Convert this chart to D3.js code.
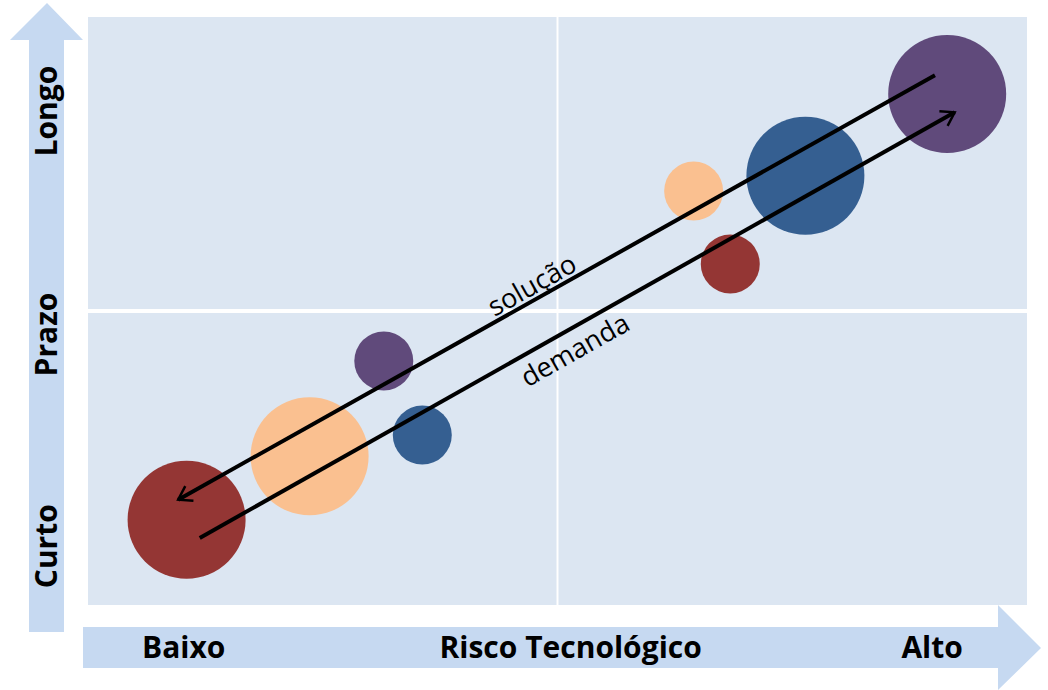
<!DOCTYPE html>
<html><head><meta charset="utf-8">
<script src="https://cdn.jsdelivr.net/npm/d3@7"></script>
<style>body{margin:0;background:#fff}svg{display:block}</style>
</head><body>
<svg id="c" width="1048" height="690"></svg>
<script>
const bubbleX = [10.5, 23.6, 31.5, 35.6, 64.5, 68.4, 76.4, 91.5];
const bubbleY = [14.5, 25.3, 41.5, 28.9, 70.4, 58.0, 73.0, 86.9];
const bubbleSize = [4, 4, 1, 1, 1, 1, 4, 4];
const bubbleGroup = ["vermelho","laranja","roxo","azul","laranja","vermelho","azul","roxo"];
const arrowLabels = ["solução","demanda"];
const arrowFrom = [[90.2, 90.1],[11.9, 11.4]];
const arrowTo = [[9.6, 17.9],[92.3, 83.8]];
const xTickLabels = ["Baixo","Risco Tecnológico","Alto"];
const xTickPos = [10.2, 51.4, 89.9];
const yTickLabels = ["Curto","Prazo","Longo"];
const yTickPos = [10.0, 46.0, 84.0];

const colors = {vermelho:"#943634", laranja:"#fac090", roxo:"#604a7b", azul:"#355f91"};
const svg = d3.select("#c");
const L=88, R=1027, T=17, B=605;
const x = d3.scaleLinear().domain([0,100]).range([L,R]);
const y = d3.scaleLinear().domain([0,100]).range([B,T]);
const r = d3.scaleSqrt().domain([0,4]).range([0,59]);

svg.append("path").attr("fill","#c6d9f1")
  .attr("d","M29,632 L29,40 L10,40 L47,3 L83,40 L64,40 L64,632 Z");
svg.append("path").attr("fill","#c6d9f1")
  .attr("d","M83,627 L998,627 L998,605 L1041,648 L998,690 L998,668 L83,668 Z");

const mx = x(50), my = y(50);
const q = [[L,T,mx-1,my-2],[mx+1,T,R,my-2],[L,my+2,mx-1,B],[mx+1,my+2,R,B]];
svg.selectAll("rect.q").data(q).join("rect").attr("class","q")
  .attr("x",d=>d[0]).attr("y",d=>d[1]).attr("width",d=>d[2]-d[0]).attr("height",d=>d[3]-d[1])
  .attr("fill","#dce6f2");

const data = bubbleX.map((v,i)=>({x:v,y:bubbleY[i],s:bubbleSize[i],g:bubbleGroup[i]}));
svg.selectAll("circle.b").data(data).join("circle").attr("class","b")
  .attr("cx",d=>x(d.x)).attr("cy",d=>y(d.y)).attr("r",d=>r(d.s))
  .attr("fill",d=>colors[d.g]);

svg.append("defs").append("marker").attr("id","ah")
  .attr("viewBox","-12 -8 14 16").attr("refX",0).attr("refY",0)
  .attr("markerWidth",4.5).attr("markerHeight",5.2).attr("markerUnits","strokeWidth")
  .attr("orient","auto")
  .append("path").attr("d","M-10,-6.5 L0,0 L-10,6.5").attr("fill","none")
  .attr("stroke","#000").attr("stroke-width",1.9).attr("stroke-linejoin","miter");

arrowFrom.forEach((f,i)=>{
  svg.append("line").attr("x1",x(f[0])).attr("y1",y(f[1]))
    .attr("x2",x(arrowTo[i][0])).attr("y2",y(arrowTo[i][1]))
    .attr("stroke","#000").attr("stroke-width",4).attr("marker-end","url(#ah)");
});

const labPos = [[533,287],[576,352]];
arrowLabels.forEach((t,i)=>{
  svg.append("text").attr("transform",`translate(${labPos[i][0]},${labPos[i][1]}) rotate(-29.4)`)
    .attr("text-anchor","middle").attr("dominant-baseline","middle")
    .attr("font-family","Open Sans, Noto Sans, sans-serif").attr("font-size",27).attr("fill","#000").text(t);
});

const font = "Liberation Sans Narrow, Open Sans, sans-serif";
svg.selectAll("text.xt").data(xTickLabels).join("text").attr("class","xt")
  .attr("x",(d,i)=>x(xTickPos[i])).attr("y",650).attr("text-anchor","middle").attr("dominant-baseline","middle")
  .attr("font-family",font).attr("font-weight","bold").attr("font-size",30)
  .attr("fill","#000").text(d=>d);
svg.selectAll("text.yt").data(yTickLabels).join("text").attr("class","yt")
  .attr("transform",(d,i)=>`translate(49,${y(yTickPos[i])}) rotate(-90)`)
  .attr("text-anchor","middle").attr("dominant-baseline","middle")
  .attr("font-family",font).attr("font-weight","bold").attr("font-size",30)
  .attr("fill","#000").text(d=>d);
</script>
</body></html>
